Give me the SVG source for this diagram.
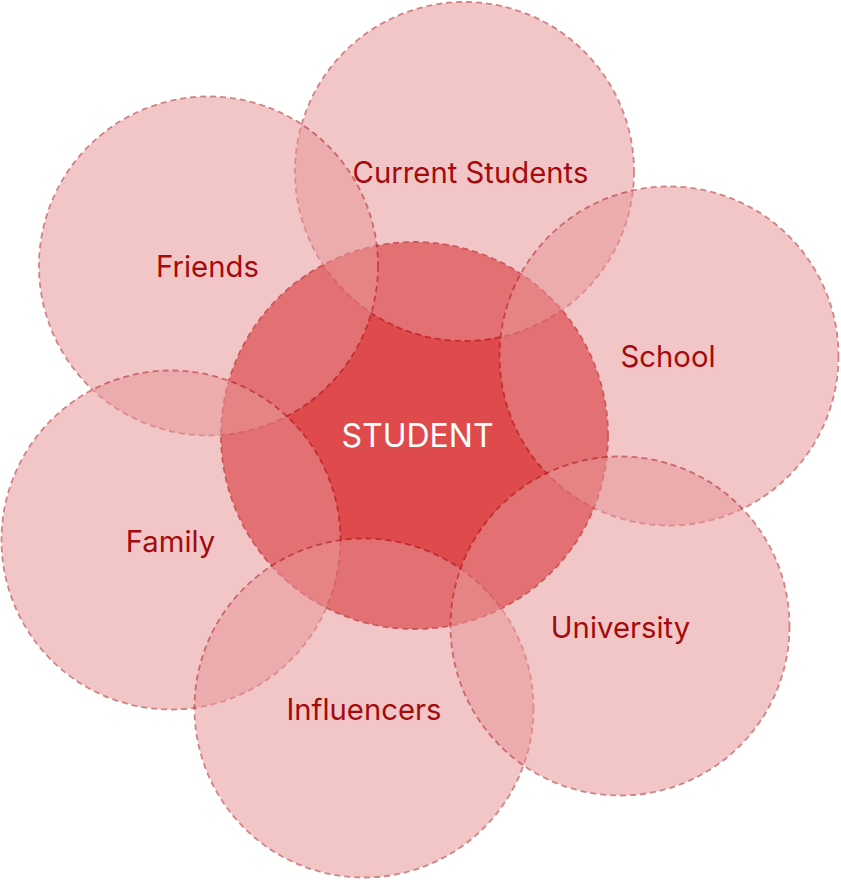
<svg xmlns="http://www.w3.org/2000/svg" width="841" height="880" viewBox="0 0 841 880">
<style>
.core{fill:#DF4A4C;stroke:#A8151A;stroke-width:1.8;stroke-dasharray:6 4}
.ring{fill:rgb(232,148,150);stroke:rgb(170,20,25);stroke-width:1.8;stroke-dasharray:6 4;opacity:0.53}
.lbl{font-family:Inter,"Noto Sans",sans-serif;font-size:29.3px;fill:#A30B0E;text-anchor:middle}
.core-lbl{font-family:Inter,"Noto Sans",sans-serif;font-size:32px;fill:#FFFFFF;text-anchor:middle}
</style>
<rect width="841" height="880" fill="#FFFFFF"/>
<g id="student">
<circle class="core" cx="414.5" cy="435.5" r="193.5"/>
<text class="core-lbl" x="417.5" y="447">STUDENT</text>
</g>
<g id="current-students">
<circle class="ring" cx="464.5" cy="171.5" r="169.5"/>
<text class="lbl" x="470.5" y="182.5">Current Students</text>
</g>
<g id="friends">
<circle class="ring" cx="208.5" cy="266" r="169.5"/>
<text class="lbl" x="207.5" y="277">Friends</text>
</g>
<g id="school">
<circle class="ring" cx="669" cy="356" r="169.5"/>
<text class="lbl" x="668" y="367">School</text>
</g>
<g id="family">
<circle class="ring" cx="171" cy="540" r="169.5"/>
<text class="lbl" x="170.5" y="551.5">Family</text>
</g>
<g id="influencers">
<circle class="ring" cx="364" cy="708" r="169.5"/>
<text class="lbl" x="364" y="719.5">Influencers</text>
</g>
<g id="university">
<circle class="ring" cx="620" cy="626" r="169.5"/>
<text class="lbl" x="620.5" y="637.5">University</text>
</g>
</svg>
